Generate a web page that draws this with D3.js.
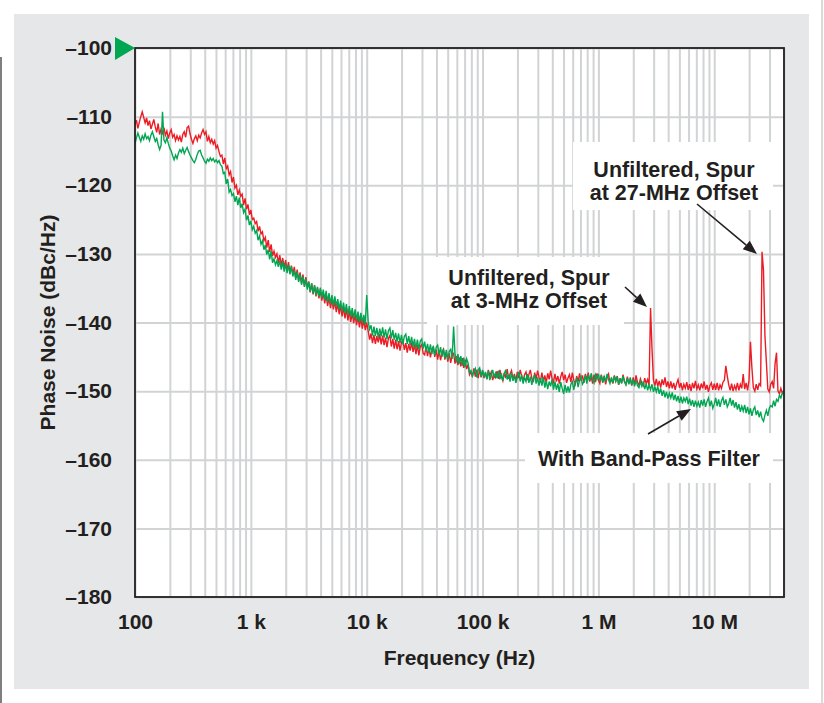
<!DOCTYPE html>
<html>
<head>
<meta charset="utf-8">
<script src="https://cdn.jsdelivr.net/npm/d3@7"></script>
<style>
  body { margin: 0; background: #fff; }
  svg text { font-family: "Liberation Sans", Arial, Helvetica, sans-serif; font-weight: bold; fill: #231f20; }
</style>
</head>
<body>
<script>
// log sweep of the analyzer: 100 Hz start, 80 points per decade
const sweepStart = 100;
const pointsPerDecade = 80;

// phase noise, dBc/Hz (one value per sweep point)
const unfiltered = [
  -111.2, -110.5, -111.7, -110.8, -110.0, -109.3, -110.1, -110.9, -110.2, -111.3,
  -110.6, -111.8, -111.1, -110.4, -111.5, -112.3, -111.0, -112.6, -111.8, -112.4,
  -111.6, -112.7, -112.1, -113.2, -112.4, -111.9, -113.0, -112.6, -113.5, -112.8,
  -113.4, -112.9, -113.7, -112.6, -112.2, -113.0, -111.6, -111.4, -112.5, -113.3,
  -113.9, -113.2, -112.8, -113.5, -112.7, -113.1, -112.4, -111.9, -112.6, -112.2,
  -113.6, -112.9, -113.8, -113.3, -114.0, -113.5, -114.6, -114.2, -115.1, -115.8,
  -115.6, -116.9, -116.0, -117.6, -117.2, -118.5, -118.0, -119.6, -118.8, -120.4,
  -120.0, -121.4, -120.7, -121.6, -121.3, -122.9, -121.9, -123.5, -122.8, -124.3,
  -123.6, -125.0, -124.8, -125.6, -125.3, -126.7, -126.0, -127.1, -126.8, -128.1,
  -127.6, -129.1, -128.0, -129.7, -128.6, -130.3, -129.6, -130.5, -130.0, -131.3,
  -130.2, -131.7, -130.6, -132.0, -130.9, -132.4, -131.2, -132.8, -131.7, -133.0,
  -131.9, -133.5, -132.3, -133.9, -132.7, -134.3, -133.0, -134.7, -133.4, -134.9,
  -134.0, -135.6, -134.3, -135.9, -134.6, -136.2, -134.9, -136.5, -135.2, -136.8,
  -135.6, -137.2, -136.0, -137.6, -136.3, -137.9, -136.6, -138.1, -136.9, -138.5,
  -137.2, -138.8, -137.5, -139.1, -137.8, -139.4, -138.0, -139.7, -138.3, -139.9,
  -138.6, -140.1, -138.9, -140.4, -139.1, -140.7, -139.3, -140.9, -139.5, -141.1,
  -140.0, -141.2, -142.5, -141.6, -143.0, -141.8, -143.1, -142.0, -142.9, -141.7,
  -143.2, -141.9, -143.3, -142.2, -143.6, -142.3, -141.9, -143.5, -142.4, -143.8,
  -142.5, -143.9, -142.7, -144.1, -142.9, -142.6, -144.0, -143.0, -144.4, -143.1,
  -144.1, -142.9, -144.3, -143.2, -144.6, -143.3, -144.8, -143.5, -143.2, -144.5,
  -144.7, -143.5, -144.9, -143.7, -145.1, -143.9, -143.6, -145.0, -144.0, -145.4,
  -144.1, -145.5, -144.4, -143.9, -145.4, -144.3, -145.7, -144.5, -145.9, -144.7,
  -144.5, -146.0, -144.9, -146.2, -145.1, -146.4, -145.2, -146.6, -145.4, -146.8,
  -146.1, -147.6, -147.2, -147.9, -146.7, -147.9, -146.9, -148.1, -146.8, -148.0,
  -147.0, -148.1, -147.3, -148.3, -146.9, -147.8, -147.2, -148.4, -147.6, -148.0,
  -147.1, -148.2, -146.9, -147.9, -148.5, -147.3, -148.1, -146.8, -148.2, -147.5,
  -147.0, -148.3, -147.5, -148.6, -147.2, -148.1, -146.9, -147.8, -148.5, -147.6,
  -147.2, -148.4, -147.6, -146.9, -148.1, -148.7, -147.3, -148.2, -147.0, -148.0,
  -148.5, -147.3, -148.6, -147.7, -148.8, -147.4, -148.3, -147.0, -148.2, -148.7,
  -147.5, -148.6, -147.8, -148.9, -147.9, -147.2, -148.4, -147.6, -148.8, -148.1,
  -147.6, -148.7, -147.3, -148.4, -149.0, -147.8, -148.6, -147.4, -148.5, -147.7,
  -148.8, -147.5, -148.4, -147.3, -148.6, -147.9, -148.9, -147.6, -148.7, -147.4,
  -148.4, -148.9, -147.6, -148.7, -147.8, -149.0, -148.0, -147.5, -148.8, -148.2,
  -148.9, -147.7, -148.5, -147.8, -149.1, -148.1, -148.8, -147.6, -148.6, -149.0,
  -147.9, -148.9, -148.2, -149.2, -148.0, -149.0, -147.7, -148.7, -149.1, -148.2,
  -148.8, -149.2, -148.1, -148.9, -148.3, -149.2, -137.9, -143.7, -148.4, -149.2,
  -148.2, -149.3, -148.5, -149.5, -148.3, -149.1, -148.0, -149.4, -148.6, -149.6,
  -148.6, -149.6, -148.8, -149.8, -148.9, -148.3, -149.5, -148.8, -149.9, -149.0,
  -149.6, -148.7, -149.8, -149.0, -150.0, -148.8, -149.6, -148.5, -149.7, -149.1,
  -149.9, -148.9, -149.6, -148.6, -149.8, -149.1, -150.1, -149.2, -148.8, -149.8,
  -148.9, -149.8, -148.8, -149.9, -149.1, -149.6, -148.7, -148.4, -146.3, -147.8,
  -149.1, -149.9, -148.9, -150.0, -149.2, -149.8, -148.8, -149.9, -149.0, -149.6,
  -147.5, -149.7, -148.8, -149.9, -148.4, -142.8, -146.6, -149.5, -150.0, -149.0,
  -149.8, -148.9, -149.2, -129.7, -132.4, -141.9, -145.8, -149.7, -150.1, -149.0,
  -148.6, -149.6, -146.0, -144.4, -150.0, -150.4, -149.6, -150.3, -149.9
];

const bandPass = [
  -113.9, -113.1, -112.4, -113.0, -113.6, -112.8, -113.3, -112.5, -113.2, -112.9,
  -113.5, -112.7, -112.2, -112.9, -113.6, -113.2, -114.1, -114.8, -114.2, -109.3,
  -113.4, -113.8, -113.1, -113.9, -114.6, -115.0, -115.7, -116.3, -115.6, -116.1,
  -115.3, -114.8, -115.2, -114.6, -115.4, -114.9, -114.5, -115.1, -115.6, -116.0,
  -116.4, -116.7, -116.2, -115.5, -115.0, -114.9, -115.6, -116.0, -116.5, -116.8,
  -116.2, -116.5, -116.0, -116.4, -116.1, -116.6, -116.3, -116.7, -116.4, -117.0,
  -117.2, -118.3, -118.1, -119.8, -119.1, -121.0, -120.6, -121.5, -121.2, -122.4,
  -121.6, -122.9, -121.8, -123.3, -122.7, -124.0, -123.5, -125.1, -124.4, -125.8,
  -125.2, -126.5, -126.0, -127.0, -126.6, -128.0, -127.4, -128.6, -128.1, -129.4,
  -128.7, -130.1, -129.4, -130.8, -129.6, -131.3, -130.7, -131.6, -131.0, -131.9,
  -131.0, -132.3, -131.1, -132.6, -131.4, -132.8, -131.6, -133.0, -131.8, -133.3,
  -132.4, -133.8, -132.6, -134.1, -133.0, -134.5, -133.3, -134.8, -133.6, -135.2,
  -134.1, -135.5, -134.3, -135.8, -134.6, -136.0, -134.8, -136.2, -134.9, -136.4,
  -135.2, -136.7, -135.4, -137.0, -135.7, -137.3, -136.0, -137.5, -136.2, -137.7,
  -136.6, -138.1, -136.8, -138.4, -137.1, -138.6, -137.3, -138.9, -137.6, -139.1,
  -137.9, -139.4, -138.1, -139.7, -138.4, -139.9, -138.6, -140.1, -138.9, -140.3,
  -136.0, -139.8, -141.0, -140.4, -141.9, -140.6, -142.0, -140.8, -142.2, -140.9,
  -142.0, -140.7, -142.2, -141.0, -142.4, -141.2, -140.8, -142.3, -141.1, -142.5,
  -141.5, -142.8, -141.6, -143.0, -141.8, -143.2, -142.0, -141.7, -143.1, -142.0,
  -143.3, -142.1, -143.5, -142.4, -143.8, -142.5, -143.9, -142.7, -142.4, -143.8,
  -142.8, -144.2, -143.1, -144.4, -143.2, -144.6, -143.4, -144.8, -143.6, -143.3,
  -144.7, -143.6, -145.0, -143.8, -145.2, -144.0, -145.4, -144.2, -143.9, -145.3,
  -140.6, -144.6, -145.8, -144.6, -146.0, -144.9, -146.3, -145.1, -146.5, -145.3,
  -145.9, -147.3, -147.0, -147.8, -147.1, -146.7, -148.0, -146.9, -146.6, -147.9,
  -146.9, -148.0, -147.2, -148.2, -147.0, -148.4, -147.6, -146.9, -148.1, -147.4,
  -148.1, -147.0, -148.3, -147.4, -148.5, -147.5, -146.9, -148.3, -147.6, -148.6,
  -147.3, -148.5, -147.7, -148.8, -148.0, -147.2, -148.6, -147.6, -148.9, -148.0,
  -148.6, -147.5, -148.8, -147.9, -149.1, -148.2, -147.6, -148.9, -148.0, -149.2,
  -148.1, -149.2, -148.0, -149.5, -148.5, -149.7, -148.6, -149.3, -148.3, -149.8,
  -148.6, -149.8, -148.9, -150.1, -148.7, -149.6, -150.4, -149.1, -150.2, -149.3,
  -150.2, -149.0, -148.6, -149.8, -148.7, -148.2, -149.4, -148.4, -147.9, -149.0,
  -148.6, -147.7, -148.9, -147.6, -148.5, -147.4, -148.3, -148.8, -147.6, -148.2,
  -147.5, -148.5, -147.7, -148.8, -147.9, -148.6, -147.5, -148.3, -148.9, -148.0,
  -148.8, -147.8, -148.6, -147.9, -149.0, -148.1, -148.9, -147.8, -148.6, -149.1,
  -148.1, -149.0, -148.0, -149.1, -148.3, -149.3, -148.4, -149.2, -149.5, -148.6,
  -149.3, -148.6, -149.7, -148.9, -149.9, -149.1, -149.8, -149.0, -150.1, -149.4,
  -150.1, -149.3, -150.4, -149.6, -150.7, -149.9, -150.9, -150.1, -151.1, -150.3,
  -151.0, -150.2, -151.3, -150.5, -151.5, -150.7, -151.7, -150.8, -151.8, -151.0,
  -151.5, -150.8, -151.9, -151.1, -152.1, -151.3, -152.3, -151.4, -152.2, -151.6,
  -152.4, -151.3, -152.1, -151.2, -152.3, -151.5, -151.0, -152.2, -151.4, -152.5,
  -151.9, -151.0, -152.2, -151.2, -152.3, -151.4, -150.9, -152.0, -151.2, -152.3,
  -151.8, -151.0, -152.1, -151.3, -152.4, -151.6, -152.7, -151.9, -153.0, -152.2,
  -152.9, -152.0, -153.2, -152.3, -153.4, -152.5, -153.6, -152.7, -152.3, -153.5,
  -152.8, -153.8, -153.0, -154.0, -154.4, -153.5, -152.8, -153.6, -152.5, -152.1,
  -152.3, -151.4, -152.2, -151.2, -151.5, -150.6, -151.0, -150.3, -150.0
];

const xTickValues = [100, 1e3, 1e4, 1e5, 1e6, 1e7];
const xTickLabels = ['100', '1 k', '10 k', '100 k', '1 M', '10 M'];
const yTickValues = [-100, -110, -120, -130, -140, -150, -160, -170, -180];
const yTickLabels = ['\u2013100', '\u2013110', '\u2013120', '\u2013130', '\u2013140', '\u2013150', '\u2013160', '\u2013170', '\u2013180'];

const PAGE = { width: 824, height: 703 };
const PLOT = { left: 135, top: 48, right: 784, bottom: 597 };
PLOT.width = PLOT.right - PLOT.left;
PLOT.height = PLOT.bottom - PLOT.top;

const RED = '#ed1c24', GREEN = '#00a651', INK = '#231f20', GRID = '#d1d3d4';

const freqAt = i => sweepStart * Math.pow(10, i / pointsPerDecade);

const x = d3.scaleLog().domain([100, 4e7]).range([PLOT.left, PLOT.right]);
const y = d3.scaleLinear().domain([-180, -100]).range([PLOT.bottom, PLOT.top]);

const svg = d3.select('body').append('svg')
    .attr('width', PAGE.width)
    .attr('height', PAGE.height);

// page edges and grey panel
svg.append('line').attr('x1', 1).attr('x2', 1).attr('y1', 57).attr('y2', PAGE.height)
    .attr('stroke', '#555').attr('stroke-width', 1.5);
svg.append('line').attr('x1', 822).attr('x2', 822).attr('y1', 0).attr('y2', PAGE.height)
    .attr('stroke', '#b5b5b5').attr('stroke-width', 1);
svg.append('rect').attr('x', 14).attr('y', 14).attr('width', 795).attr('height', 675)
    .attr('fill', '#e6e7e8');

svg.append('rect')
    .attr('x', PLOT.left).attr('y', PLOT.top)
    .attr('width', PLOT.width).attr('height', PLOT.height)
    .attr('fill', '#fff');

// grid
const xGrid = d3.axisBottom(x).tickValues(x.ticks(10)).tickSize(-PLOT.height).tickFormat('');
svg.append('g')
    .attr('transform', `translate(0,${PLOT.bottom})`)
    .call(xGrid)
    .call(g => g.select('.domain').remove())
    .selectAll('line').attr('stroke', GRID).attr('stroke-width', 2);

const yGrid = d3.axisLeft(y).tickValues(yTickValues).tickSize(-PLOT.width).tickFormat('');
svg.append('g')
    .attr('transform', `translate(${PLOT.left},0)`)
    .call(yGrid)
    .call(g => g.select('.domain').remove())
    .selectAll('line').attr('stroke', GRID).attr('stroke-width', 2);

// white label boxes knock the grid out
const boxes = [
    { x: 573, y: 142, w: 200, h: 68 },
    { x: 427, y: 257, w: 197, h: 68 },
    { x: 525, y: 433, w: 248, h: 50 }
];
svg.selectAll('rect.box').data(boxes).enter().append('rect')
    .attr('class', 'box')
    .attr('x', d => d.x).attr('y', d => d.y)
    .attr('width', d => d.w).attr('height', d => d.h)
    .attr('fill', '#fff');

// traces
svg.append('clipPath').attr('id', 'clip')
  .append('rect')
    .attr('x', PLOT.left).attr('y', PLOT.top)
    .attr('width', PLOT.width).attr('height', PLOT.height);

const line = d3.line()
    .x((d, i) => x(freqAt(i)))
    .y(d => y(d));

svg.append('path')
    .datum(unfiltered)
    .attr('clip-path', 'url(#clip)')
    .attr('fill', 'none')
    .attr('stroke', RED)
    .attr('stroke-width', 1.4)
    .attr('d', line);

svg.append('path')
    .datum(bandPass)
    .attr('clip-path', 'url(#clip)')
    .attr('fill', 'none')
    .attr('stroke', GREEN)
    .attr('stroke-width', 1.4)
    .attr('d', line);

// frame
svg.append('rect')
    .attr('x', PLOT.left).attr('y', PLOT.top)
    .attr('width', PLOT.width).attr('height', PLOT.height)
    .attr('fill', 'none')
    .attr('stroke', INK)
    .attr('stroke-width', 1.8);

// tick labels
const yAxis = d3.axisLeft(y)
    .tickValues(yTickValues)
    .tickFormat((d, i) => yTickLabels[i])
    .tickSize(0)
    .tickPadding(23);
svg.append('g')
    .attr('transform', `translate(${PLOT.left},0)`)
    .call(yAxis)
    .call(g => g.select('.domain').remove())
    .attr('font-family', null)
    .attr('font-size', 21);

const xAxis = d3.axisBottom(x)
    .tickValues(xTickValues)
    .tickFormat((d, i) => xTickLabels[i])
    .tickSize(0)
    .tickPadding(17);
svg.append('g')
    .attr('transform', `translate(0,${PLOT.bottom})`)
    .call(xAxis)
    .call(g => g.select('.domain').remove())
    .attr('font-family', null)
    .attr('font-size', 21);

// axis titles
svg.append('text')
    .attr('transform', `translate(55,${(PLOT.top + PLOT.bottom) / 2}) rotate(-90)`)
    .attr('text-anchor', 'middle')
    .style('font-size', '21px')
    .text('Phase Noise (dBc/Hz)');

svg.append('text')
    .attr('x', (PLOT.left + PLOT.right) / 2)
    .attr('y', 665)
    .attr('text-anchor', 'middle')
    .style('font-size', '21px')
    .text('Frequency (Hz)');

// reference level marker
svg.append('path')
    .attr('d', `M115,37 L${PLOT.left},${y(-100)} L115,60 Z`)
    .attr('fill', GREEN);

// annotations
const notes = [
    { x: 674, y: 177, lines: ['Unfiltered, Spur', 'at 27-MHz Offset'] },
    { x: 529, y: 285, lines: ['Unfiltered, Spur', 'at 3-MHz Offset'] },
    { x: 649, y: 466, lines: ['With Band-Pass Filter'] }
];
notes.forEach(n => {
    const t = svg.append('text')
        .attr('text-anchor', 'middle')
        .style('font-size', '21.5px');
    n.lines.forEach((s, i) => {
        t.append('tspan').attr('x', n.x).attr('y', n.y + i * 23).text(s);
    });
});

// arrows with filled heads
const arrows = [
    { x1: 697, y1: 204, x2: 757, y2: 254 },
    { x1: 625, y1: 287, x2: 647, y2: 307 },
    { x1: 648, y1: 434, x2: 691, y2: 409 }
];
arrows.forEach(a => {
    const ang = Math.atan2(a.y2 - a.y1, a.x2 - a.x1);
    const len = 14, half = 5.5;
    const bx = a.x2 - len * Math.cos(ang), by = a.y2 - len * Math.sin(ang);
    svg.append('line')
        .attr('x1', a.x1).attr('y1', a.y1).attr('x2', bx).attr('y2', by)
        .attr('stroke', INK).attr('stroke-width', 1.6);
    svg.append('path')
        .attr('d', `M${a.x2},${a.y2} L${bx - half * Math.sin(ang)},${by + half * Math.cos(ang)} L${bx + half * Math.sin(ang)},${by - half * Math.cos(ang)} Z`)
        .attr('fill', INK);
});
</script>
</body>
</html>
